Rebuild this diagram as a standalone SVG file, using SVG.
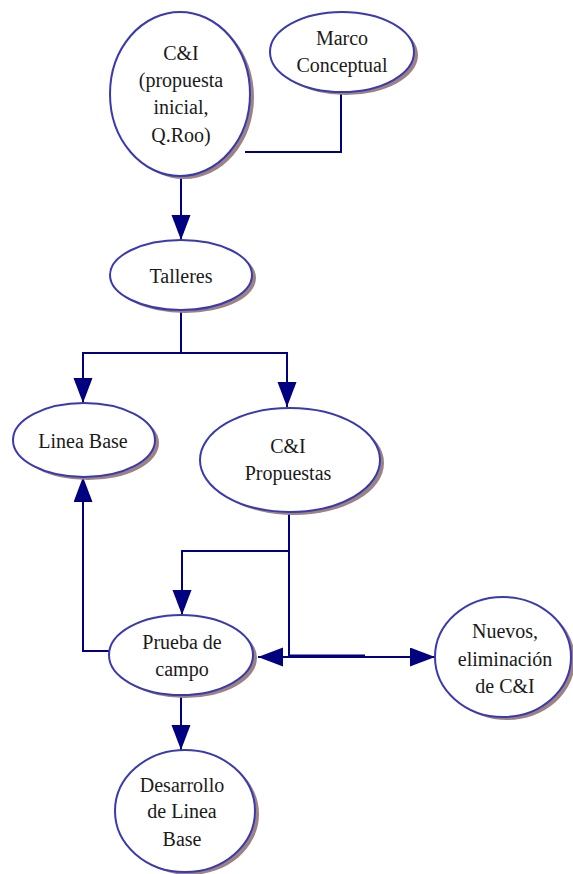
<svg xmlns="http://www.w3.org/2000/svg" width="573" height="874" viewBox="0 0 573 874">
<defs>
<marker id="arr" markerUnits="userSpaceOnUse" markerWidth="26" markerHeight="20" refX="25" refY="9.5" orient="auto">
<path d="M0,0 L25,9.5 L0,19 Z" fill="#000080"/>
</marker>
<style>
.sh{fill:#9c8282;}
.el{fill:#ffffff;stroke:#3a3ab0;stroke-width:2;}
.t{font-size:20px;fill:#1a1a1a;text-anchor:middle;}
.c{fill:none;stroke:#000080;stroke-width:2;}
</style>
</defs>
<rect width="573" height="874" fill="#ffffff"/>
<g id="connectors">
<polyline class="c" points="341,92 341,152 245,152"/>
<line class="c" x1="181" y1="176" x2="181" y2="240" marker-end="url(#arr)"/>
<polyline class="c" points="181,310 181,353 83,353 83,403" marker-end="url(#arr)"/>
<polyline class="c" points="181,353 287,353 287,407" marker-end="url(#arr)"/>
<polyline class="c" points="110,651 83,651 83,477" marker-end="url(#arr)"/>
<polyline class="c" points="289,512 289,551 182,551 182,615" marker-end="url(#arr)"/>
<polyline class="c" points="289,551 289,657 258,657" marker-end="url(#arr)"/>
<line class="c" x1="289" y1="657" x2="435" y2="657" marker-end="url(#arr)"/>
<line stroke="#000080" stroke-width="3" x1="289" y1="656" x2="365" y2="656"/>
<line class="c" x1="181" y1="695" x2="181" y2="750" marker-end="url(#arr)"/>
</g>
<g font-family="Liberation Serif, DejaVu Serif, serif">
<g id="ci">
<ellipse class="sh" cx="184" cy="97" rx="70" ry="82"/>
<ellipse class="el" cx="180" cy="94" rx="70" ry="82"/>
<text class="t" x="181" y="60">C&amp;I</text>
<text class="t" x="181" y="87">(propuesta</text>
<text class="t" x="181" y="114">inicial,</text>
<text class="t" x="181" y="142">Q.Roo)</text>
</g>
<g id="marco">
<ellipse class="sh" cx="346" cy="55" rx="72" ry="40"/>
<ellipse class="el" cx="342" cy="52" rx="72" ry="40"/>
<text class="t" x="342" y="45">Marco</text>
<text class="t" x="342" y="72">Conceptual</text>
</g>
<g id="talleres">
<ellipse class="sh" cx="185" cy="278" rx="71" ry="35"/>
<ellipse class="el" cx="181" cy="275" rx="71" ry="35"/>
<text class="t" x="181" y="283">Talleres</text>
</g>
<g id="lineabase">
<ellipse class="sh" cx="88" cy="443" rx="71" ry="37"/>
<ellipse class="el" cx="84" cy="440" rx="71" ry="37"/>
<text class="t" x="83" y="448">Linea Base</text>
</g>
<g id="propuestas">
<ellipse class="sh" cx="294" cy="463" rx="90" ry="52"/>
<ellipse class="el" cx="290" cy="460" rx="90" ry="52"/>
<text class="t" x="288" y="453">C&amp;I</text>
<text class="t" x="288" y="480">Propuestas</text>
</g>
<g id="prueba">
<ellipse class="sh" cx="185" cy="658" rx="72" ry="40"/>
<ellipse class="el" cx="181" cy="655" rx="72" ry="40"/>
<text class="t" x="182" y="649">Prueba de</text>
<text class="t" x="182" y="676">campo</text>
</g>
<g id="nuevos">
<ellipse class="sh" cx="507" cy="660" rx="68" ry="60"/>
<ellipse class="el" cx="503" cy="657" rx="68" ry="60"/>
<text class="t" x="505" y="638">Nuevos,</text>
<text class="t" x="505" y="666">eliminación</text>
<text class="t" x="505" y="693">de C&amp;I</text>
</g>
<g id="desarrollo">
<ellipse class="sh" cx="189" cy="814" rx="70" ry="61"/>
<ellipse class="el" cx="185" cy="811" rx="70" ry="61"/>
<text class="t" x="182" y="792">Desarrollo</text>
<text class="t" x="182" y="818">de Linea</text>
<text class="t" x="182" y="846">Base</text>
</g>
</g>
</svg>
